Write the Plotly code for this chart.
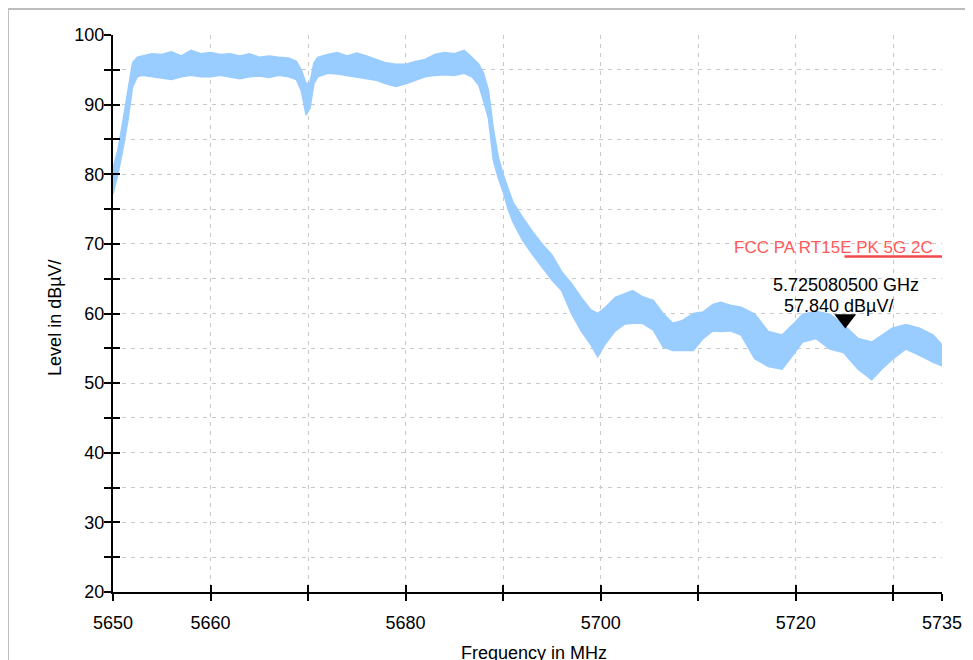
import plotly.graph_objects as go

freq_mhz = [5650, 5650.5, 5651, 5651.5, 5652, 5652.5, 5653, 5654, 5655, 5656,
            5657, 5658, 5659, 5660, 5661, 5662, 5663, 5664, 5665, 5666,
            5667, 5668, 5668.8, 5669.3, 5669.8, 5670.2, 5670.6, 5671, 5672, 5673,
            5674, 5675, 5676, 5677, 5678, 5679, 5680, 5681, 5682, 5683,
            5684, 5685, 5686, 5686.8, 5687.5, 5688, 5688.5, 5689, 5689.5, 5690,
            5690.5, 5691, 5692, 5693, 5694, 5695, 5696, 5697, 5698, 5699,
            5699.7, 5700.5, 5701.5, 5702.5, 5703.3, 5704.3, 5705.4, 5706.4, 5707.4, 5708.4,
            5709.5, 5710.5, 5711.5, 5712.3, 5713.3, 5714.4, 5715.8, 5717.2, 5718.6, 5719.7,
            5720.7, 5722.1, 5723.5, 5724.9, 5726.4, 5727.8, 5728.8, 5729.9, 5731.3, 5732.7,
            5734.1, 5735]
level_lo = [77.2, 80.0, 83.5, 87.5, 92.5, 94.0, 94.2, 94.0, 93.8, 93.6,
            94.0, 94.2, 94.0, 94.0, 94.2, 94.0, 93.7, 94.0, 94.1, 93.9,
            94.2, 94.0, 93.6, 92.0, 88.5, 89.5, 93.0, 94.0, 94.5, 94.4,
            94.2, 94.0, 93.8, 93.5, 93.0, 92.6, 93.0, 93.5, 94.0, 94.2,
            94.3, 94.2, 94.5, 94.0, 92.8, 90.5, 88.0, 82.0, 79.5, 77.5,
            75.0, 73.2, 70.5, 68.5, 66.6, 64.8, 63.3, 60.0, 57.5, 55.5,
            53.8, 55.7, 57.5, 58.5, 58.6, 58.6, 57.6, 55.2, 54.7, 54.7,
            54.7, 56.4, 57.5, 57.4, 57.5, 56.9, 53.5, 52.4, 52.0, 54.0,
            55.9, 56.4, 54.9, 54.4, 52.0, 50.5, 52.0, 53.4, 54.9, 54.0,
            53.0, 52.5]
level_hi = [80.8, 83.5, 87.5, 91.5, 96.0, 96.8, 97.0, 97.3, 97.2, 97.6,
            97.0, 97.8, 97.3, 97.5, 97.2, 97.3, 97.0, 97.3, 96.8, 97.0,
            96.8, 96.7, 96.2, 95.0, 93.0, 93.2, 96.0, 96.8, 97.2, 97.5,
            97.0, 97.4, 97.0, 96.5, 96.0, 95.8, 95.8, 96.2, 96.5, 97.2,
            97.5, 97.3, 97.8, 96.8, 95.8, 94.5, 92.0, 86.5, 82.5, 80.0,
            78.0, 76.0, 73.8, 71.8, 70.0, 68.4, 66.0, 64.3, 62.3, 60.5,
            60.0, 60.9, 62.3, 62.9, 63.3, 62.4, 61.9, 60.0, 58.6, 59.0,
            60.0, 60.2, 61.3, 61.6, 61.2, 60.9, 59.9, 57.4, 56.9, 58.4,
            59.9, 60.3, 59.9, 58.4, 56.4, 55.9, 56.9, 57.9, 58.4, 57.9,
            56.9, 55.5]

limit_f = [5725, 5735]
limit_v = [68.2, 68.2]
limit_name = "FCC PA RT15E PK 5G 2C"

marker_f = 5725.0805
marker_v = 57.84

x_ticks = [5650, 5660, 5670, 5680, 5690, 5700, 5710, 5720, 5730, 5735]
x_text = ["5650", "5660", "", "5680", "", "5700", "", "5720", "", "5735"]
y_ticks = list(range(20, 101, 5))
y_text = [str(v) if v % 10 == 0 else "" for v in y_ticks]

FONT = "Liberation Sans, Arial, sans-serif"
BLUE = "#99ccff"
RED = "#f24848"

fig = go.Figure()
fig.add_trace(go.Scatter(x=freq_mhz, y=level_lo, mode="lines",
                         line=dict(color=BLUE, width=1.5), hoverinfo="skip"))
fig.add_trace(go.Scatter(x=freq_mhz, y=level_hi, mode="lines", fill="tonexty",
                         fillcolor=BLUE, line=dict(color=BLUE, width=1.5)))
fig.add_trace(go.Scatter(x=limit_f, y=limit_v, mode="lines", xaxis="x2", yaxis="y2",
                         line=dict(color=RED, width=2.5)))
fig.add_trace(go.Scatter(x=[marker_f], y=[marker_v], mode="markers",
                         marker=dict(symbol="triangle-up", angle=180, size=19,
                                     standoff=9.5, color="black")))

axis_common = dict(showline=True, linecolor="black", linewidth=2, ticks="outside",
                   ticklen=7, tickwidth=2, tickcolor="black", zeroline=False,
                   tickfont=dict(family=FONT, size=18, color="black"),
                   gridcolor="#c8c8c8", griddash="4px,5px", gridwidth=1)

# the page adds an 8px body margin, so the figure margins are 8px smaller
fig.update_layout(
    width=973, height=660, showlegend=False,
    paper_bgcolor="white", plot_bgcolor="white",
    margin=dict(l=105, r=39, t=27, b=76),
    font=dict(family=FONT, size=18, color="black"),
    xaxis=dict(range=[5650, 5735], tickmode="array", tickvals=x_ticks, ticktext=x_text,
               ticklabelstandoff=6, **axis_common),
    yaxis=dict(range=[20, 100], tickmode="array", tickvals=y_ticks, ticktext=y_text,
               ticklabelstandoff=-4, **axis_common),
    xaxis2=dict(overlaying="x", matches="x", anchor="y2", showgrid=False, zeroline=False,
                showline=False, ticks="inside", ticklen=7, tickwidth=2, tickcolor="black",
                tickmode="array", tickvals=x_ticks, showticklabels=False),
    yaxis2=dict(overlaying="y", matches="y", anchor="x2", showgrid=False, zeroline=False,
                showline=False, ticks="inside", ticklen=7, tickwidth=2, tickcolor="black",
                tickmode="array", tickvals=y_ticks, showticklabels=False),
    shapes=[dict(type="rect", xref="paper", yref="paper", x0=-0.1267, x1=1.05,
                 y0=-0.2, y1=1.0467, line=dict(color="#bdbdbd", width=2), layer="below")],
)

fig.add_annotation(x=0.508, y=-0.1094, xref="paper", yref="paper", showarrow=False,
                   text="Frequency in MHz", font=dict(size=18), yanchor="middle")
fig.add_annotation(x=-0.0845, y=0.492, xref="paper", yref="paper", showarrow=False,
                   text="Level in dBµV/", textangle=-90, font=dict(size=18))
fig.add_annotation(x=limit_f[1], y=limit_v[1], showarrow=False, text=limit_name,
                   xanchor="right", yanchor="middle", xshift=-7, yshift=9,
                   font=dict(size=17, color="#ff5a5a"))
fig.add_annotation(x=marker_f, y=marker_v, showarrow=False, text="5.725080500 GHz",
                   xanchor="center", yanchor="middle", xshift=1, yshift=44)
fig.add_annotation(x=marker_f, y=marker_v, showarrow=False, text="57.840 dBµV/",
                   xanchor="center", yanchor="middle", xshift=-7, yshift=23)

fig.write_html("out.html")
